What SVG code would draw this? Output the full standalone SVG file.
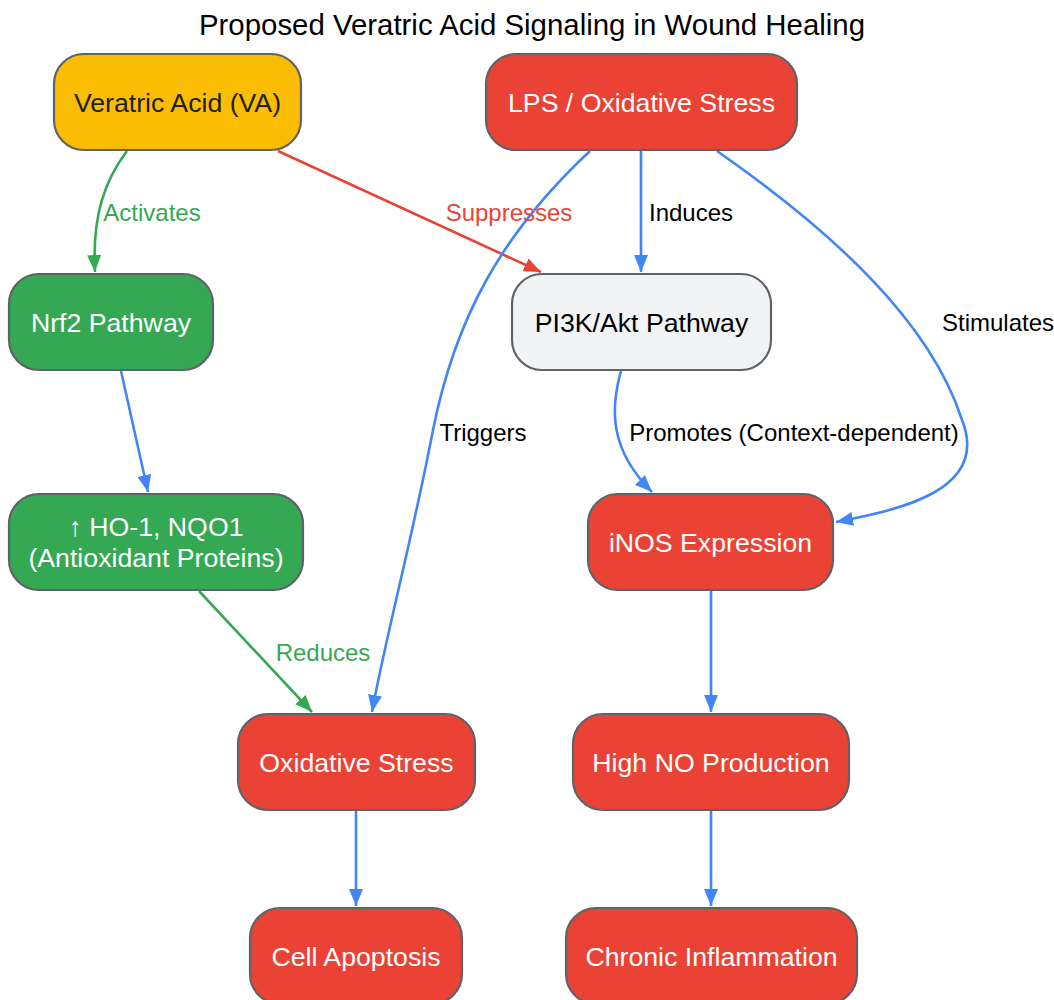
<svg xmlns="http://www.w3.org/2000/svg" width="1054" height="1000" viewBox="0 0 1054 1000">
<style>
.n rect{stroke:#5f6368;stroke-width:2.2}
.t{font-family:"Liberation Sans",Arial,sans-serif;font-size:26.7px;text-anchor:middle;fill:#fff}
.dk{fill:#202124}
.bk{fill:#000}
.title{font-family:"Liberation Sans",Arial,sans-serif;font-size:29.4px;text-anchor:middle;fill:#000}
.el{font-family:"Liberation Sans",Arial,sans-serif;font-size:24px;text-anchor:middle}
.e{fill:none;stroke-width:2.6}
.b{stroke:#4285F4}
.g{stroke:#34A853}
.r{stroke:#EA4335}
</style>
<defs>
<marker id="ab" markerWidth="18" markerHeight="14" refX="17" refY="7" orient="auto" markerUnits="userSpaceOnUse"><path d="M0,0 L17,7 L0,14 Z" fill="#4285F4"/></marker>
<marker id="ag" markerWidth="18" markerHeight="14" refX="17" refY="7" orient="auto" markerUnits="userSpaceOnUse"><path d="M0,0 L17,7 L0,14 Z" fill="#34A853"/></marker>
<marker id="ar" markerWidth="18" markerHeight="14" refX="17" refY="7" orient="auto" markerUnits="userSpaceOnUse"><path d="M0,0 L17,7 L0,14 Z" fill="#EA4335"/></marker>
</defs>
<rect width="1054" height="1000" fill="#fff"/>
<text class="title" x="532" y="35">Proposed Veratric Acid Signaling in Wound Healing</text>

<g id="connectors">
<path class="e g" d="M127,151 C105,180 92,215 95,272" marker-end="url(#ag)"/>
<path class="e r" d="M278,151 L541,272" marker-end="url(#ar)"/>
<path class="e b" d="M641,151 L641,272" marker-end="url(#ab)"/>
<path class="e b" d="M590,151 C500,235 455,320 433,430 C412,540 385,640 372,712" marker-end="url(#ab)"/>
<path class="e b" d="M717,151 C830,230 930,320 962,420 C990,490 900,510 836,522" marker-end="url(#ab)"/>
<path class="e b" d="M621,371 C610,410 610,450 652,492" marker-end="url(#ab)"/>
<path class="e b" d="M121,371 L148,492" marker-end="url(#ab)"/>
<path class="e g" d="M199,591 L312,712" marker-end="url(#ag)"/>
<path class="e b" d="M711,591 L711,712" marker-end="url(#ab)"/>
<path class="e b" d="M356,811 L356,906" marker-end="url(#ab)"/>
<path class="e b" d="M711,811 L711,906" marker-end="url(#ab)"/>
<text class="el" x="152" y="221" fill="#34A853">Activates</text>
<text class="el" x="509" y="221" fill="#EA4335">Suppresses</text>
<text class="el" x="691" y="221" fill="#000">Induces</text>
<text class="el" x="998" y="331" fill="#000">Stimulates</text>
<text class="el" x="483" y="441" fill="#000">Triggers</text>
<text class="el" x="794" y="441" fill="#000">Promotes (Context-dependent)</text>
<text class="el" x="323" y="661" fill="#34A853">Reduces</text>
</g>

<g id="va" class="n"><rect x="54" y="54" width="247" height="96" rx="30" fill="#FBBC04"/><text class="t dk" x="177.5" y="111.5">Veratric Acid (VA)</text></g>
<g id="lps" class="n"><rect x="486" y="54" width="311" height="96" rx="30" fill="#EA4335"/><text class="t" x="641.5" y="111.5">LPS / Oxidative Stress</text></g>
<g id="nrf2" class="n"><rect x="9" y="274" width="204" height="96" rx="30" fill="#34A853"/><text class="t" x="111" y="331.5">Nrf2 Pathway</text></g>
<g id="pi3k" class="n"><rect x="512" y="274" width="259" height="96" rx="30" fill="#F1F3F4"/><text class="t bk" x="641.5" y="331.5">PI3K/Akt Pathway</text></g>
<g id="ho1" class="n"><rect x="9" y="494" width="294" height="96" rx="30" fill="#34A853"/><text class="t" x="156" y="536">↑ HO-1, NQO1</text><text class="t" x="156" y="567">(Antioxidant Proteins)</text></g>
<g id="inos" class="n"><rect x="588" y="494" width="245" height="96" rx="30" fill="#EA4335"/><text class="t" x="710.5" y="551.5">iNOS Expression</text></g>
<g id="os" class="n"><rect x="238" y="714" width="237" height="96" rx="30" fill="#EA4335"/><text class="t" x="356.5" y="771.5">Oxidative Stress</text></g>
<g id="no" class="n"><rect x="573" y="714" width="276" height="96" rx="30" fill="#EA4335"/><text class="t" x="711" y="771.5">High NO Production</text></g>
<g id="apop" class="n"><rect x="250" y="908" width="212" height="96" rx="30" fill="#EA4335"/><text class="t" x="356" y="965.5">Cell Apoptosis</text></g>
<g id="infl" class="n"><rect x="566" y="908" width="291" height="96" rx="30" fill="#EA4335"/><text class="t" x="711.5" y="965.5">Chronic Inflammation</text></g>
</svg>
